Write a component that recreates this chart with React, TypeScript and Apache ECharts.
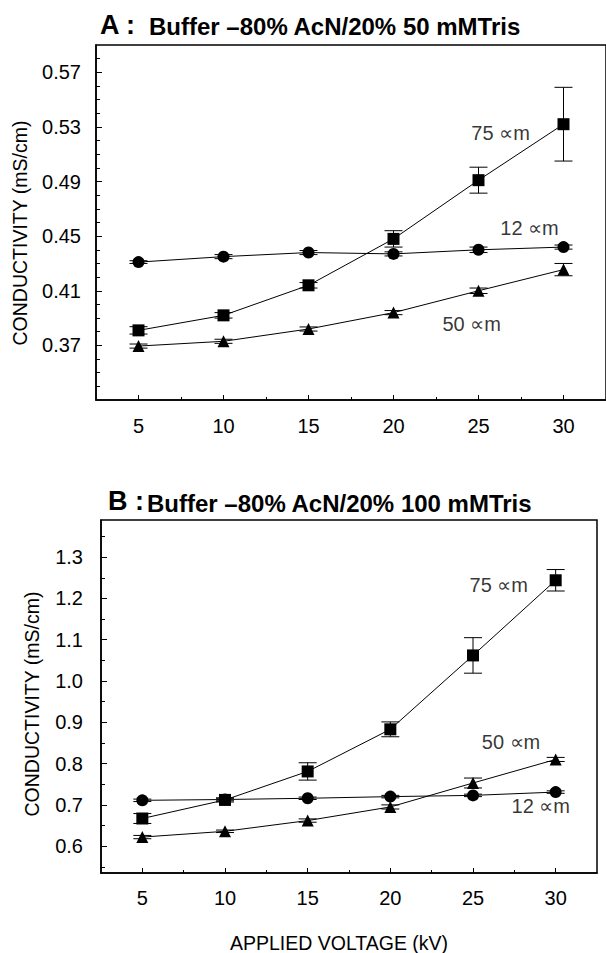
import React, { useEffect, useRef } from 'react';
import * as echarts from 'echarts';

// Applied voltage (kV)
const voltages = [5, 10, 15, 20, 25, 30];

// Panel A: 80% AcN / 20% 50 mM Tris
const a75 = [0.381, 0.392, 0.414, 0.448, 0.491, 0.532];
const a75Err = [0.0027, 0.002, 0.002, 0.006, 0.0095, 0.027];
const a12 = [0.431, 0.435, 0.438, 0.437, 0.44, 0.442];
const a12Err = [0.001, 0.0015, 0.0015, 0.0015, 0.002, 0.0015];
const a50 = [0.3695, 0.373, 0.382, 0.394, 0.41, 0.4255];
const a50Err = [0.0015, 0.0015, 0.0015, 0.0015, 0.002, 0.0045];

// Panel B: 80% AcN / 20% 100 mM Tris
const b75 = [0.667, 0.712, 0.781, 0.883, 1.062, 1.244];
const b75Err = [0.012, 0.005, 0.021, 0.018, 0.043, 0.026];
const b50 = [0.622, 0.636, 0.662, 0.695, 0.753, 0.81];
const b50Err = [0.004, 0.003, 0.004, 0.005, 0.012, 0.005];
const b12 = [0.711, 0.713, 0.716, 0.72, 0.723, 0.731];
const b12Err = [0.003, 0.003, 0.003, 0.003, 0.003, 0.003];

// Tick labels / tick values
const xLabels = [5, 10, 15, 20, 25, 30];
const xMinor = [7.5, 12.5, 17.5, 22.5, 27.5];
const aYLabels = [0.37, 0.41, 0.45, 0.49, 0.53, 0.57];
const aYMinor = [0.34, 0.35, 0.36, 0.38, 0.39, 0.4, 0.42, 0.43, 0.44, 0.46, 0.47, 0.48, 0.5, 0.51, 0.52, 0.54, 0.55, 0.56, 0.58];
const bYLabels = [0.6, 0.7, 0.8, 0.9, 1.0, 1.1, 1.2, 1.3];
const bYMinor = [0.55, 0.65, 0.75, 0.85, 0.95, 1.05, 1.15, 1.25, 1.35];

// Series annotations (data coordinates)
const annotationsA = [
  { name: '75 ∝m', x: 26.3, y: 0.5256 },
  { name: '12 ∝m', x: 28.0, y: 0.4563 },
  { name: '50 ∝m', x: 24.6, y: 0.386 },
];
const annotationsB = [
  { name: '75 ∝m', x: 26.56, y: 1.2315 },
  { name: '50 ∝m', x: 27.3, y: 0.852 },
  { name: '12 ∝m', x: 29.1, y: 0.697 },
];

const FONT = '"Liberation Sans", Arial, Helvetica, sans-serif';

export default function App() {
  const ref = useRef<HTMLDivElement>(null);

  useEffect(() => {
    if (!ref.current) return;
    const chart = echarts.init(ref.current, null, { renderer: 'svg' });

    const axisLineStyle = { color: '#000', width: 1.5 };

    const mkXAxes = (gridIndex: number, labelMargin: number) => [
      {
        type: 'value', gridIndex, min: 2.5, max: 32.5, position: 'bottom',
        axisLine: { show: true, onZero: false, lineStyle: axisLineStyle },
        axisTick: { show: true, inside: true, length: 5, customValues: xLabels, lineStyle: { color: '#000', width: 1 } },
        axisLabel: { show: true, customValues: xLabels, color: '#000', fontSize: 20, fontFamily: FONT, margin: labelMargin },
        splitLine: { show: false },
      },
      {
        type: 'value', gridIndex, min: 2.5, max: 32.5, position: 'bottom',
        axisLine: { show: false, onZero: false },
        axisTick: { show: true, inside: true, length: 3, customValues: xMinor, lineStyle: { color: '#000', width: 1 } },
        axisLabel: { show: false },
        splitLine: { show: false },
      },
    ];

    const mkYAxes = (gridIndex: number, min: number, max: number, labels: number[], minor: number[], digits: number, margin: number) => [
      {
        type: 'value', gridIndex, min, max, position: 'left',
        axisLine: { show: true, onZero: false, lineStyle: axisLineStyle },
        axisTick: { show: true, inside: true, length: 6, customValues: labels, lineStyle: { color: '#000', width: 1 } },
        axisLabel: {
          show: true, customValues: labels, color: '#000', fontSize: 20, fontFamily: FONT, margin,
          formatter: (v: number) => v.toFixed(digits),
        },
        splitLine: { show: false },
      },
      {
        type: 'value', gridIndex, min, max, position: 'left',
        axisLine: { show: false, onZero: false },
        axisTick: { show: true, inside: true, length: 4, customValues: minor, lineStyle: { color: '#000', width: 1 } },
        axisLabel: { show: false },
        splitLine: { show: false },
      },
    ];

    const errorSeries = (xAxisIndex: number, yAxisIndex: number, vals: number[], errs: number[]) => ({
      type: 'custom',
      coordinateSystem: 'cartesian2d',
      xAxisIndex, yAxisIndex,
      z: 1,
      silent: true,
      encode: { x: 0, y: 1 },
      data: voltages.map((v, i) => [v, vals[i], errs[i]]),
      renderItem: (params: any, api: any) => {
        const x = api.value(0);
        const y = api.value(1);
        const e = api.value(2);
        const top = api.coord([x, y + e]);
        const bot = api.coord([x, y - e]);
        const hw = 9;
        const st = { stroke: '#000', lineWidth: 1 };
        return {
          type: 'group',
          children: [
            { type: 'line', shape: { x1: top[0], y1: top[1], x2: bot[0], y2: bot[1] }, style: st },
            { type: 'line', shape: { x1: top[0] - hw, y1: top[1], x2: top[0] + hw, y2: top[1] }, style: st },
            { type: 'line', shape: { x1: bot[0] - hw, y1: bot[1], x2: bot[0] + hw, y2: bot[1] }, style: st },
          ],
        };
      },
    });

    const lineSeries = (xAxisIndex: number, yAxisIndex: number, vals: number[], symbol: string, size: number) => ({
      type: 'line',
      xAxisIndex, yAxisIndex,
      z: 3,
      symbol, symbolSize: size, showSymbol: true,
      lineStyle: { color: '#000', width: 1 },
      itemStyle: { color: '#000' },
      data: voltages.map((v, i) => [v, vals[i]]),
    });

    const annoSeries = (xAxisIndex: number, yAxisIndex: number, items: { name: string; x: number; y: number }[]) => ({
      type: 'scatter',
      xAxisIndex, yAxisIndex,
      silent: true,
      symbol: 'circle', symbolSize: 1,
      itemStyle: { color: 'rgba(0,0,0,0)' },
      label: { show: true, position: 'inside', formatter: '{b}', color: '#000', fontSize: 20, fontFamily: FONT },
      data: items.map((d) => ({ name: d.name, value: [d.x, d.y] })),
    });

    const titleText = (x: number, y: number, text: string, size: number, weight: string) => ({
      type: 'text', x, y, silent: true,
      style: {
        text, fill: '#000', font: `${weight} ${size}px ${FONT}`,
        align: 'left', verticalAlign: 'middle', textAlign: 'left', textVerticalAlign: 'middle',
      },
    });

    const vText = (x: number, y: number, text: string) => ({
      type: 'text', x, y, rotation: Math.PI / 2, silent: true,
      style: {
        text, fill: '#000', font: `19.5px ${FONT}`,
        align: 'center', verticalAlign: 'middle', textAlign: 'center', textVerticalAlign: 'middle',
      },
    });

    chart.setOption({
      animation: false,
      backgroundColor: '#fff',
      grid: [
        { left: 96, top: 45, width: 512, height: 355, show: true, borderColor: '#000', borderWidth: 1.5, backgroundColor: 'transparent' },
        { left: 101, top: 520, width: 496, height: 353, show: true, borderColor: '#000', borderWidth: 1.5, backgroundColor: 'transparent' },
      ],
      xAxis: [...mkXAxes(0, 16), ...mkXAxes(1, 15)],
      yAxis: [
        ...mkYAxes(0, 0.33, 0.59, aYLabels, aYMinor, 2, 15),
        ...mkYAxes(1, 0.535, 1.39, bYLabels, bYMinor, 1, 18),
      ],
      series: [
        errorSeries(0, 0, a75, a75Err),
        errorSeries(0, 0, a12, a12Err),
        errorSeries(0, 0, a50, a50Err),
        lineSeries(0, 0, a75, 'rect', 12),
        lineSeries(0, 0, a12, 'circle', 12),
        lineSeries(0, 0, a50, 'triangle', 12),
        annoSeries(0, 0, annotationsA),
        errorSeries(2, 2, b75, b75Err),
        errorSeries(2, 2, b50, b50Err),
        errorSeries(2, 2, b12, b12Err),
        lineSeries(2, 2, b75, 'rect', 12),
        lineSeries(2, 2, b50, 'triangle', 12),
        lineSeries(2, 2, b12, 'circle', 12),
        annoSeries(2, 2, annotationsB),
      ],
      graphic: [
        titleText(100, 25, 'A :', 27, 'bold'),
        titleText(149, 26, 'Buffer –80% AcN/20% 50 mMTris', 24, 'bold'),
        titleText(108, 501, 'B :', 27, 'bold'),
        titleText(147, 503, 'Buffer –80% AcN/20% 100 mMTris', 24, 'bold'),
        vText(20, 233, 'CONDUCTIVITY (mS/cm)'),
        vText(32, 704, 'CONDUCTIVITY (mS/cm)'),
        {
          type: 'text', x: 339, y: 943, silent: true,
          style: {
            text: 'APPLIED VOLTAGE (kV)', fill: '#000', font: `19.5px ${FONT}`,
            align: 'center', verticalAlign: 'middle', textAlign: 'center', textVerticalAlign: 'middle',
          },
        },
      ],
    });

    return () => chart.dispose();
  }, []);

  return <div ref={ref} style={{ position: 'absolute', left: 0, top: 0, width: 606, height: 953 }} />;
}
